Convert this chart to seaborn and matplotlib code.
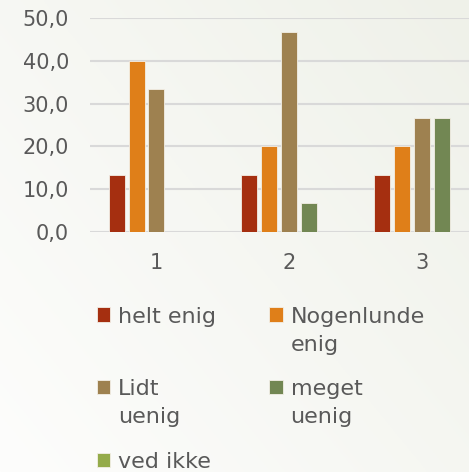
import numpy as np
import pandas as pd
import matplotlib.pyplot as plt
import matplotlib.patches as mpatches
from matplotlib.legend_handler import HandlerPatch
import seaborn as sns

# data
groups = ["1", "2", "3"]
answers = ["helt enig", "Nogenlunde enig", "Lidt uenig", "meget uenig", "ved ikke"]
legend_labels = ["helt enig\n ", "Nogenlunde\nenig", "Lidt\nuenig", "meget\nuenig", "ved ikke"]
helt_enig = [13.3, 13.3, 13.3]
nogenlunde_enig = [40.0, 20.0, 20.0]
lidt_uenig = [33.3, 46.7, 26.7]
meget_uenig = [0.0, 6.7, 26.7]
ved_ikke = [0.0, 0.0, 0.0]
colors = ["#A52F10", "#DF7F19", "#9E8150", "#728753", "#94AB4A"]

rows = []
for name, vals in zip(answers, [helt_enig, nogenlunde_enig, lidt_uenig, meget_uenig, ved_ikke]):
    for g, v in zip(groups, vals):
        rows.append({"gruppe": g, "svar": name, "pct": v})
df = pd.DataFrame(rows)

sns.set_style("white")
plt.rcParams['font.family'] = ['DejaVu Sans']
txt = "#595959"

fig = plt.figure(figsize=(4.69, 4.72), dpi=100)

# soft background gradient
bg = fig.add_axes([0, 0, 1, 1], zorder=-10)
xx, yy = np.meshgrid(np.linspace(0, 1, 200), np.linspace(0, 1, 200))
grad = np.clip(0.55 * xx + 0.45 * (1 - yy), 0, 1)
c0 = np.array([253, 253, 252]) / 255
c1 = np.array([239, 241, 233]) / 255
img = c0[None, None, :] * (1 - grad[..., None]) + c1[None, None, :] * grad[..., None]
bg.imshow(img, aspect="auto", extent=[0, 1, 0, 1], origin="upper")
bg.axis("off")

ax = fig.add_axes([0.192, 0.5085, 0.808, 0.4535])
ax.set_facecolor("none")
sns.barplot(data=df, x="gruppe", y="pct", hue="svar", hue_order=answers,
            palette=colors, saturation=1, width=0.75, gap=0.2,
            edgecolor="#f3efe6", linewidth=0.6, ax=ax, zorder=3)

ax.set_ylim(0, 50)
ax.set_xlim(-0.5, 2.353)
ax.set_yticks(np.arange(0, 51, 10))
ax.set_yticklabels([f"{v:.1f}".replace(".", ",") for v in np.arange(0, 51, 10)])
ax.yaxis.grid(True, color="#d9d9d9", linewidth=1.5, zorder=0)
ax.set_axisbelow(True)
for s in ax.spines.values():
    s.set_visible(False)
ax.tick_params(axis="both", length=0, labelsize=15, labelcolor=txt)
ax.tick_params(axis="y", pad=15)
ax.tick_params(axis="x", pad=15)
ax.set_xlabel("")
ax.set_ylabel("")

# legend: row-major order, handle at the first text line
old = ax.get_legend()
handles = list(old.legend_handles)
old.remove()
order = [0, 2, 4, 1, 3]


def square_top(legend, orig_handle, xdescent, ydescent, width, height, fontsize):
    return mpatches.Rectangle((-xdescent, -ydescent + 0.75 * fontsize), width, height)


hmap = {mpatches.Rectangle: HandlerPatch(patch_func=square_top),
        handles[4]: HandlerPatch()}

leg = ax.legend([handles[i] for i in order], [legend_labels[i] for i in order],
                loc="upper left", bbox_to_anchor=(97 / 469, 1 - 307 / 472),
                bbox_transform=fig.transFigure, ncol=2, frameon=False,
                fontsize=16, handlelength=0.6, handleheight=0.6,
                handletextpad=0.35, columnspacing=2.4, labelspacing=1.1,
                borderpad=0, borderaxespad=0, handler_map=hmap)
for t in leg.get_texts():
    t.set_color(txt)
    t.set_linespacing(1.5)

fig.savefig("out.png", dpi=100)
